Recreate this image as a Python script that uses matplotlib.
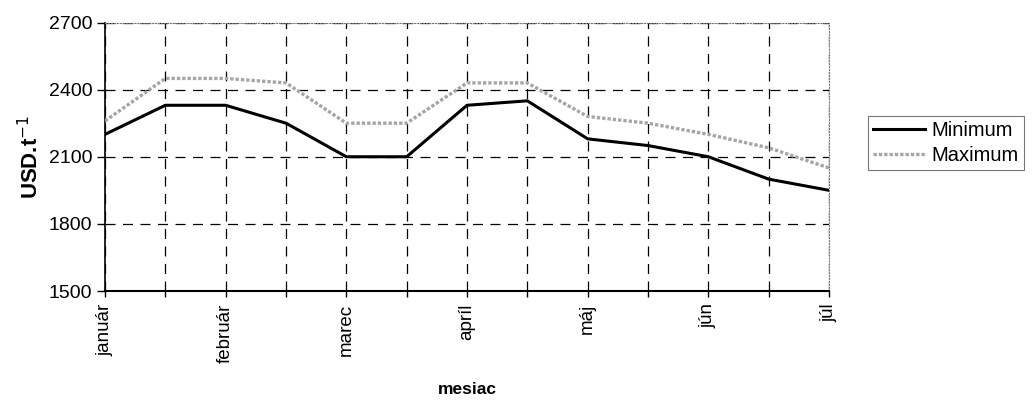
import matplotlib
matplotlib.use("Agg")
import matplotlib.pyplot as plt

plt.rcParams['font.family'] = ['Liberation Sans', 'DejaVu Sans']

positions = list(range(13))
month_labels = ['január', 'február', 'marec', 'apríl', 'máj', 'jún', 'júl']
minimum = [2200, 2330, 2330, 2250, 2100, 2100, 2330, 2350, 2180, 2150, 2100, 2000, 1950]
maximum = [2260, 2450, 2450, 2430, 2250, 2250, 2430, 2430, 2280, 2250, 2200, 2140, 2050]
yticks = [1500, 1800, 2100, 2400, 2700]

fig = plt.figure(figsize=(10.32, 4.01), dpi=100)
ax = fig.add_axes([105/1032, 1 - 291/401, (829-105)/1032, (291-22.5)/401])

ax.plot(positions, minimum, color='black', lw=2.2, label='Minimum', zorder=3)
ax.plot(positions, maximum, color='#a5a5a5', lw=2.4, linestyle=(0, (1, 0.6)), label='Maximum', zorder=3)

ax.set_xlim(0, 12)
ax.set_ylim(1500, 2700)
ax.set_yticks(yticks)
ax.set_xticks(positions)
ax.set_xticklabels([month_labels[i // 2] if i % 2 == 0 else '' for i in positions], rotation=90)
ax.tick_params(axis='y', labelsize=14, length=6, direction='out', width=1, pad=3)
ax.tick_params(axis='x', labelsize=13.5, length=4, direction='out', width=1, pad=5)

ax.grid(True, color='black', linestyle=(0, (8, 6)), lw=0.9)
ax.set_axisbelow(True)
for s in ['top', 'right']:
    ax.spines[s].set_color('#777777')
    ax.spines[s].set_linestyle(':')
ax.spines['left'].set_linewidth(1.2)
ax.spines['bottom'].set_linewidth(1.5)

ax.set_ylabel('USD.t$^{-1}$', fontsize=16, fontweight='bold', labelpad=4)
fig.text((105+829)/2/1032, 1 - 390/401, 'mesiac', ha='center', va='center', fontsize=12.5, fontweight='bold')

leg = fig.legend(loc='upper left', bbox_to_anchor=(868/1032, 1 - 116/401), fontsize=14.5,
                 frameon=True, fancybox=False, edgecolor='#555555', handlelength=2.6,
                 handletextpad=0.3, borderpad=0.25, labelspacing=0.3, borderaxespad=0)
leg.get_frame().set_linewidth(0.8)

fig.savefig('out.png', dpi=100)
